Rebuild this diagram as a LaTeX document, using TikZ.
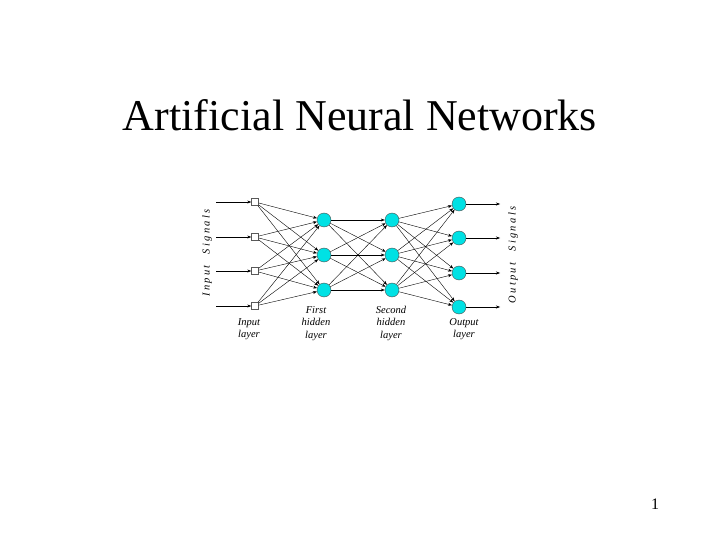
\documentclass[tikz,border=0pt]{standalone}
\usepackage{fontspec}
\setmainfont{Liberation Serif}
\usetikzlibrary{arrows.meta}

\definecolor{neuroncyan}{RGB}{0,225,228}

\begin{document}
\begin{tikzpicture}[x=1pt, y=-1pt, >={Stealth[length=4pt,width=3pt]},
    unit/.style={rectangle, draw=gray!70!black, fill=white, minimum size=7pt, inner sep=0pt},
    neuron/.style={circle, draw=gray!60!black, fill=neuroncyan, minimum size=14pt, inner sep=0pt},
    link/.style={->, black, line width=0.4pt},
    layername/.style={font=\fontsize{10.5}{12.5}\selectfont\itshape, align=center, anchor=north, inner sep=0pt},
    signalname/.style={font=\fontsize{10.5}{12}\selectfont\itshape, rotate=90}]
    \useasboundingbox (0,0) rectangle (720,540);

    \node[font=\fontsize{44}{52}\selectfont] (title) at (360,115) {Artificial Neural Networks};

    \foreach \i/\y in {1/202,2/237,3/271,4/306} {
        \node[unit] (I\i) at (255,\y) {};
        \coordinate (S\i) at (216,\y);
    }
    \foreach \j/\y in {1/220,2/255,3/290} {
        \node[neuron] (H\j) at (324,\y) {};
        \node[neuron] (K\j) at (392,\y) {};
    }
    \foreach \k/\y in {1/204,2/238,3/273,4/307} {
        \node[neuron] (O\k) at (459,\y) {};
        \coordinate (T\k) at (500,\y);
    }

    \foreach \i in {1,2,3,4} {
        \draw[link] (S\i) -- (I\i);
        \foreach \j in {1,2,3} {
            \draw[link] (I\i) -- (H\j);
        }
    }
    \foreach \j in {1,2,3} {
        \foreach \m in {1,2,3} {
            \draw[link] (H\j) -- (K\m);
        }
        \foreach \k in {1,2,3,4} {
            \draw[link] (K\j) -- (O\k);
        }
    }
    \foreach \k in {1,2,3,4} {
        \draw[link] (O\k) -- (T\k);
    }

    \node[layername] (inlayer) at (249,318) {Input\\layer};
    \node[layername] (firstlayer) at (316,306) {First\\hidden\\layer};
    \node[layername] (secondlayer) at (391,306) {Second\\hidden\\layer};
    \node[layername] (outlayer) at (464,318) {Output\\layer};

    \node[signalname] (insig) at (207,253) {I\:n\:p\:u\:t \;\; S\:i\:g\:n\:a\:l\:s};
    \node[signalname] (outsig) at (513,255) {O\:u\:t\:p\:u\:t \;\; S\:i\:g\:n\:a\:l\:s};

    \node[font=\fontsize{16}{18}\selectfont] (pagenum) at (655,504) {1};
\end{tikzpicture}
\end{document}
